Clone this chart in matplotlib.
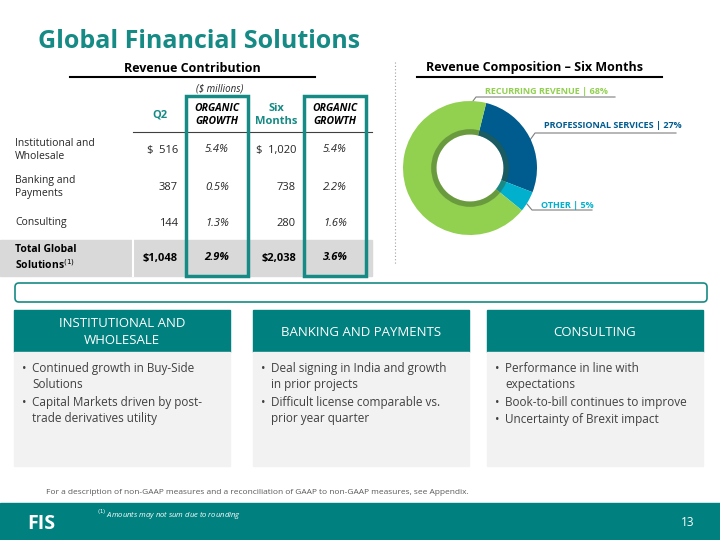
import matplotlib.pyplot as plt
from matplotlib.patches import Rectangle, FancyBboxPatch, Wedge

# ---- data ----
ROW_LABELS = ["Institutional and\nWholesale", "Banking and\nPayments", "Consulting"]
Q2_VALUES = ["$  516", "387", "144"]
Q2_GROWTH = ["5.4%", "0.5%", "1.3%"]
SIX_VALUES = ["$  1,020", "738", "280"]
SIX_GROWTH = ["5.4%", "2.2%", "1.6%"]
TOTAL = ["$1,048", "2.9%", "$2,038", "3.6%"]

PIE_LABELS = ["PROFESSIONAL SERVICES | 27%", "OTHER | 5%", "RECURRING REVENUE | 68%"]
PIE_SHARES = [27, 5, 68]
PIE_COLORS = ["#005b8f", "#00b0cc", "#92d050"]

PANEL_TITLES = ["INSTITUTIONAL AND\nWHOLESALE", "BANKING AND PAYMENTS", "CONSULTING"]
PANEL_BULLETS = [
    ["Continued growth in Buy-Side\nSolutions", "Capital Markets driven by post-\ntrade derivatives utility"],
    ["Deal signing in India and growth\nin prior projects", "Difficult license comparable vs.\nprior year quarter"],
    ["Performance in line with\nexpectations", "Book-to-bill continues to improve", "Uncertainty of Brexit impact"],
]

TEAL = "#00807e"
DARK = "#262626"
plt.rcParams["font.family"] = "Open Sans"

fig = plt.figure(figsize=(7.2, 5.4), dpi=100)
ax = fig.add_axes([0, 0, 1, 1])
ax.set_xlim(0, 720); ax.set_ylim(540, 0); ax.axis("off")

ax.text(38, 42, "Global Financial Solutions", color="#168a84", fontsize=18,
        fontweight="bold", va="center")

# ---- revenue table ----
ax.text(192, 68, "Revenue Contribution", fontsize=9, fontweight="bold", ha="center", va="center", color="black")
ax.plot([70, 315], [77, 77], color="black", lw=1.5)
ax.text(220, 89, "($ millions)", fontsize=7, style="italic", ha="center", va="center", color=DARK)

ax.add_patch(Rectangle((0, 240), 372, 36, color="#d9d9d9", zorder=0))
ax.plot([133, 133], [240, 276], color="white", lw=1.5)
ax.plot([133, 372], [132, 132], color="#404040", lw=0.8)

ax.text(160, 115, "Q2", color="#168a84", fontsize=8, fontweight="bold", ha="center", va="center")
ax.text(276, 115, "Six\nMonths", color="#168a84", fontsize=8, fontweight="bold", ha="center", va="center", linespacing=1.2)
for cx in (217, 335):
    ax.text(cx, 115, "ORGANIC\nGROWTH", color="black", fontsize=7.5, fontweight="bold", style="italic",
            ha="center", va="center", linespacing=1.2)
    ax.add_patch(Rectangle((cx - 31, 96), 62, 180, fill=False, edgecolor="#168a84", lw=2.5, zorder=5))

row_y = [150, 187, 223]
for i, y in enumerate(row_y):
    ax.text(15, y, ROW_LABELS[i], fontsize=7.5, va="center", color=DARK, linespacing=1.25)
    ax.text(178, y, Q2_VALUES[i], fontsize=8, ha="right", va="center", color=DARK)
    ax.text(217, y, Q2_GROWTH[i], fontsize=8, style="italic", ha="center", va="center", color=DARK)
    ax.text(296, y, SIX_VALUES[i], fontsize=8, ha="right", va="center", color=DARK)
    ax.text(335, y, SIX_GROWTH[i], fontsize=8, style="italic", ha="center", va="center", color=DARK)
ax.text(15, 258, "Total Global\nSolutions$^{(1)}$", fontsize=7.5, fontweight="bold", va="center", color="black", linespacing=1.25)
ax.text(178, 258, TOTAL[0], fontsize=8, fontweight="bold", ha="right", va="center")
ax.text(217, 258, TOTAL[1], fontsize=8, fontweight="bold", style="italic", ha="center", va="center")
ax.text(296, 258, TOTAL[2], fontsize=8, fontweight="bold", ha="right", va="center")
ax.text(335, 258, TOTAL[3], fontsize=8, fontweight="bold", style="italic", ha="center", va="center")

ax.plot([395, 395], [62, 265], color="#a0a0a0", lw=0.8, ls=(0, (1, 2)))

# ---- donut ----
ax.text(535, 68, "Revenue Composition \u2013 Six Months", fontsize=9, fontweight="bold", ha="center", va="center")
ax.plot([417, 662], [77, 77], color="black", lw=1.5)

pax = fig.add_axes([403 / 720, (540 - 235) / 540, 134 / 720, 134 / 540])
pax.pie(PIE_SHARES, colors=PIE_COLORS, startangle=76, counterclock=False,
        wedgeprops=dict(width=0.5, edgecolor="none"))
pax.add_patch(Wedge((0, 0), 0.58, 0, 360, width=0.08, color="#3a5a2a", alpha=0.45, lw=0))
pax.set_xlim(-1, 1); pax.set_ylim(-1, 1)
pax.set_aspect("equal")

label_pos = [(544, 126, 535, 676, 133, (530, 140)), (541, 205, 532, 592, 210, (527, 204)),
             (485, 92, 476, 615, 97, (473, 101))]
for (lx, ly, x0, x1, yl, tip), lab, col in zip(label_pos, PIE_LABELS, PIE_COLORS):
    ax.text(lx, ly, lab, fontsize=6.5, fontweight="bold", color=col, va="center")
    ax.plot([tip[0], x0, x1], [tip[1], yl, yl], color="#7f7f7f", lw=0.8)

# ---- callout box and panels ----
ax.add_patch(FancyBboxPatch((15, 283), 692, 19, boxstyle="round,pad=0,rounding_size=4",
                            facecolor="white", edgecolor="#168a84", lw=1.2))
panel_x = [14, 253, 487]
for px, title, bullets in zip(panel_x, PANEL_TITLES, PANEL_BULLETS):
    ax.add_patch(Rectangle((px, 310), 216, 42, color=TEAL))
    ax.add_patch(Rectangle((px, 352), 216, 114, color="#f2f2f2"))
    ax.text(px + 108, 332, title, color="white", fontsize=9.5, ha="center", va="center", linespacing=1.4)
    y = 362
    for b in bullets:
        ax.text(px + 8, y, "\u2022", fontsize=8.5, color="#404040", va="top")
        ax.text(px + 18, y, b, fontsize=8.5, color="#404040", va="top", linespacing=1.3)
        y += 17 * (b.count("\n") + 1)

ax.text(46, 492, "For a description of non-GAAP measures and a reconciliation of GAAP to non-GAAP measures, see Appendix.",
        fontsize=6, color="#595959", va="center")

# ---- footer ----
ax.add_patch(Rectangle((0, 503), 720, 37, color=TEAL))
ax.text(27, 524, "FIS", color="white", fontsize=14, fontweight="bold", va="center")
ax.text(97, 515, "$^{(1)}$ Amounts may not sum due to rounding", color="white", fontsize=5.5, style="italic", va="center")
ax.text(694, 522, "13", color="white", fontsize=8.5, ha="right", va="center")

fig.savefig("out.png", dpi=100)
